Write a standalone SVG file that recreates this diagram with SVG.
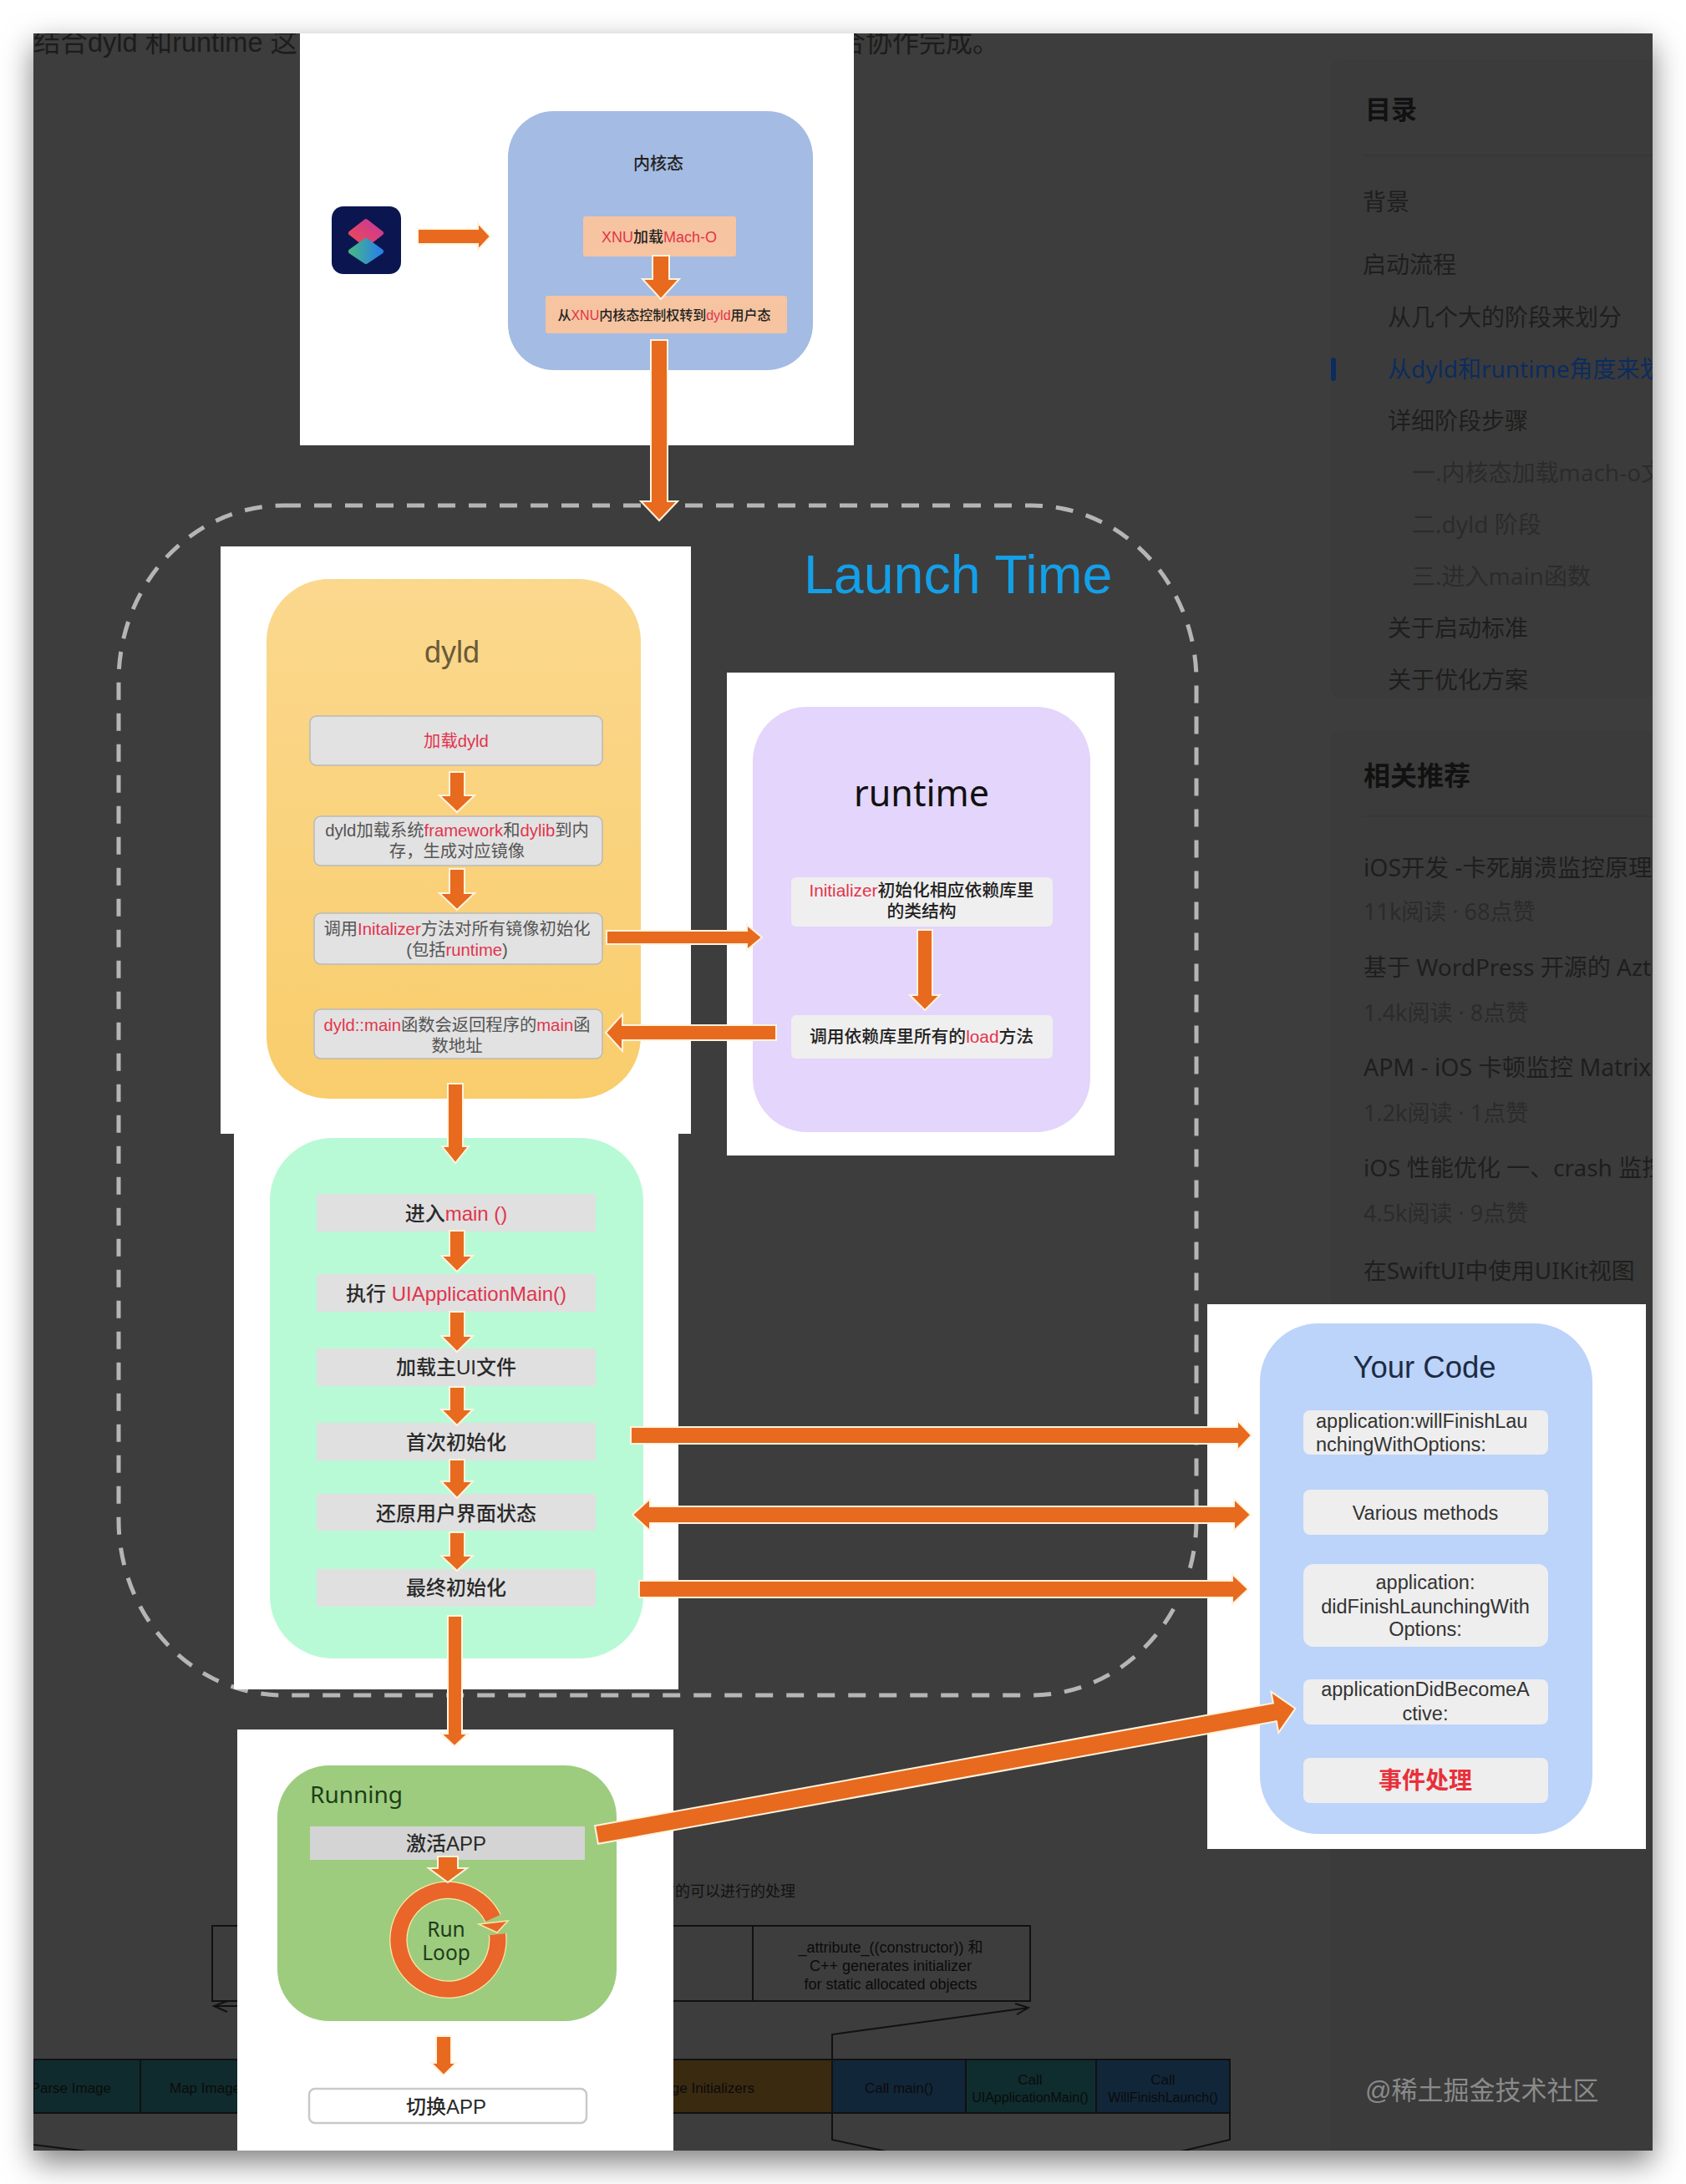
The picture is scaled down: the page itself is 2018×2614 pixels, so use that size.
<svg xmlns="http://www.w3.org/2000/svg" width="2018" height="2614" viewBox="0 0 2018 2614">
<style>
text{font-family:"Liberation Sans","Noto Sans CJK SC",sans-serif}
.m{text-anchor:middle}
.e{text-anchor:end}
.r{fill:#e2344c}
.wb{fill:#fff}
.ar{fill:#e76a1f;stroke:#fff3dc;stroke-width:2}
.side{font-family:"Noto Sans","Noto Sans CJK SC",sans-serif;font-size:28px;fill:#1e1e1e}
.dim{fill:#2b2b2b}
.meta{fill:#2b2b2b;font-size:27px}
.ln{fill:none;stroke:#111;stroke-width:2}
.bg{font-size:17px;fill:#0b0b0b}
.d{font-size:20.3px;fill:#555}
.g{fill:#e2e2e2;stroke:#b9b9b9;stroke-width:1.5}
.gg{fill:#e0e0e0}
.t24{font-size:24px;fill:#2a2a2a;font-weight:500}
.y{fill:#eeeeee}
.c23{font-size:23.5px;fill:#333}
.rt{font-size:20.8px;fill:#222;font-weight:500}
</style>
<defs>
<filter id="sh" x="-10%" y="-10%" width="120%" height="120%"><feDropShadow dx="0" dy="14" stdDeviation="18" flood-color="#000" flood-opacity=".5"/></filter>
<clipPath id="pc"><rect x="40" y="40" width="1938" height="2534"/></clipPath>
<linearGradient id="og" x1="0" y1="0" x2="0" y2="1"><stop offset="0" stop-color="#fbd88e"/><stop offset="1" stop-color="#f9cd6c"/></linearGradient>
<linearGradient id="pk" x1="1" y1="0" x2="0" y2="1"><stop offset="0" stop-color="#c8389a"/><stop offset="1" stop-color="#ef4a50"/></linearGradient>
<linearGradient id="tl" x1="0" y1="0" x2="1" y2="0"><stop offset="0" stop-color="#45b58a"/><stop offset="1" stop-color="#2a80e8"/></linearGradient>
</defs>
<rect width="2018" height="2614" fill="#fff"/>
<rect id="panel" x="40" y="40" width="1938" height="2534" fill="#3c3c3c" filter="url(#sh)"/>
<g clip-path="url(#pc)">
<g id="page-text">
<text x="40" y="62" font-size="32.5" fill="#1c1c1c">结合dyld 和runtime 这</text>
<text x="1196" y="62" class="e" font-size="32" fill="#1c1c1c">合协作完成。</text>
</g>
<g id="sidebar">
<rect x="1593" y="72" width="420" height="763" rx="12" fill="#3b3b3b"/>
<rect x="1593" y="875" width="420" height="1720" rx="12" fill="#3b3b3b"/>
<rect x="1632" y="185" width="346" height="1.5" fill="#363636"/>
<text class="side" x="1634" y="142" style="font-size:31px;font-weight:700;fill:#111">目录</text>
<text class="side" x="1631" y="252">背景</text>
<text class="side" x="1631" y="327">启动流程</text>
<text class="side" x="1661" y="390">从几个大的阶段来划分</text>
<rect x="1593" y="428" width="6" height="28" rx="3" fill="#0c2c5e"/>
<text class="side" x="1661" y="452" style="fill:#0c2c5e">从dyld和runtime角度来划分</text>
<text class="side" x="1661" y="514">详细阶段步骤</text>
<text class="side dim" x="1690" y="576" style="fill:#2b2b2b">一.内核态加载mach-o文件</text>
<text class="side dim" x="1690" y="638" style="fill:#2b2b2b">二.dyld 阶段</text>
<text class="side dim" x="1690" y="700" style="fill:#2b2b2b">三.进入main函数</text>
<text class="side" x="1661" y="762">关于启动标准</text>
<text class="side" x="1661" y="824">关于优化方案</text>
<text class="side" x="1632" y="940" style="font-size:32px;font-weight:700;fill:#111">相关推荐</text>
<rect x="1632" y="976" width="346" height="1.5" fill="#363636"/>
<text class="side" x="1632" y="1049" style="font-size:28.4px">iOS开发 -卡死崩溃监控原理</text>
<text class="side meta" x="1632" y="1101">11k阅读 · 68点赞</text>
<text class="side" x="1632" y="1168">基于 WordPress 开源的 Aztec</text>
<text class="side meta" x="1632" y="1222">1.4k阅读 · 8点赞</text>
<text class="side" x="1632" y="1288" style="font-size:28.4px">APM - iOS 卡顿监控 Matrix</text>
<text class="side meta" x="1632" y="1342">1.2k阅读 · 1点赞</text>
<text class="side" x="1632" y="1408">iOS 性能优化 一、crash 监控</text>
<text class="side meta" x="1632" y="1462">4.5k阅读 · 9点赞</text>
<text class="side" x="1632" y="1531" style="font-size:27.8px">在SwiftUI中使用UIKit视图</text>
</g>
<g id="background-diagram">
<text class="e" x="952" y="2270" font-size="18" fill="#111">前的可以进行的处理</text>
<rect class="ln" x="254" y="2305" width="979" height="90"/>
<path class="ln" d="M901 2305V2395"/>
<text class="bg m" x="1066" y="2337" style="font-size:18px">_attribute_((constructor)) 和</text>
<text class="bg m" x="1066" y="2359" style="font-size:18px">C++ generates initializer</text>
<text class="bg m" x="1066" y="2381" style="font-size:18px">for static allocated objects</text>
<path class="ln" d="M284 2401H256M272 2395L256 2401L272 2408"/>
<path class="ln" d="M996 2465V2435L1231 2403M1215 2398L1231 2403L1217 2411"/>
<g stroke="#111" stroke-width="2">
<rect x="40" y="2465" width="128" height="64" fill="#0f2b2d"/>
<rect x="168" y="2465" width="130" height="64" fill="#0f2b2d"/>
<rect x="800" y="2465" width="196" height="64" fill="#3a2a10"/>
<rect x="996" y="2465" width="160" height="64" fill="#12263a"/>
<rect x="1156" y="2465" width="156" height="64" fill="#0f2d2e"/>
<rect x="1312" y="2465" width="160" height="64" fill="#12263a"/>
</g>
<text class="bg e" x="133" y="2505">Parse Image</text>
<text class="bg" x="203" y="2505">Map Image</text>
<text class="bg e" x="903" y="2505">Image Initializers</text>
<text class="bg m" x="1076" y="2505">Call main()</text>
<text class="bg m" x="1233" y="2495">Call</text>
<text class="bg m" x="1233" y="2516" style="font-size:16px">UIApplicationMain()</text>
<text class="bg m" x="1392" y="2495">Call</text>
<text class="bg m" x="1392" y="2516" style="font-size:16px">WillFinishLaunch()</text>
<path class="ln" d="M996 2529V2561L1061 2575M1472 2529V2561L1413 2575M40 2567L105 2575"/>
<text id="watermark" x="1634" y="2513" font-size="31" fill="#8a8a8a">@稀土掘金技术社区</text>
</g>
<rect id="launch-time-frame" x="142" y="605" width="1290" height="1424" rx="197" ry="210" fill="none" stroke="#b5b5b5" stroke-width="5" stroke-dasharray="21 16"/>
<text id="launch-time-label" x="962" y="710" font-size="64.5" fill="#13a0e8">Launch Time</text>

<g id="node-kernel">
<rect class="wb" x="359" y="40" width="663" height="493"/>
<rect x="608" y="133" width="365" height="310" rx="55" fill="#a4bbe3"/>
<text class="m" x="788" y="203" font-size="20" fill="#222" font-weight="500">内核态</text>
<rect x="698" y="259" width="183" height="48" rx="3" fill="#f6c4a0"/>
<text class="m" x="789" y="290" font-size="18" fill="#222" font-weight="500"><tspan class="r">XNU</tspan>加载<tspan class="r">Mach-O</tspan></text>
<rect x="653" y="354" width="289" height="45" rx="3" fill="#f6c4a0"/>
<text class="m" x="795" y="383" font-size="16" fill="#222" font-weight="500">从<tspan class="r">XNU</tspan>内核态控制权转到<tspan class="r">dyld</tspan>用户态</text>
</g>
<g id="node-app-icon">
<rect x="397" y="247" width="83" height="81" rx="14" fill="#0b1650"/>
<path d="M438 265L456 279L438 293L420 279Z" fill="url(#pk)" stroke="url(#pk)" stroke-width="6" stroke-linejoin="round"/>
<path d="M438 288L456 301L438 313L420 301Z" fill="url(#tl)" stroke="url(#tl)" stroke-width="6" stroke-linejoin="round"/>
</g>
<g id="node-dyld">
<rect class="wb" x="264" y="654" width="563" height="703"/>
<rect x="319" y="693" width="448" height="622" rx="75" fill="url(#og)"/>
<text class="m" x="541" y="793" font-size="36" fill="#6a5a3a">dyld</text>
<rect class="g" x="371" y="857" width="350" height="59" rx="8"/>
<text class="m d" x="546" y="894"><tspan class="r">加载dyld</tspan></text>
<rect class="g" x="376" y="977" width="345" height="59" rx="8"/>
<text class="m d" x="547" y="1001">dyld加载系统<tspan class="r">framework</tspan>和<tspan class="r">dylib</tspan>到内</text>
<text class="m d" x="547" y="1026">存，生成对应镜像</text>
<rect class="g" x="376" y="1093" width="345" height="61" rx="8"/>
<text class="m d" x="547" y="1119">调用<tspan class="r">Initalizer</tspan>方法对所有镜像初始化</text>
<text class="m d" x="547" y="1144">(包括<tspan class="r">runtime</tspan>)</text>
<rect class="g" x="376" y="1208" width="345" height="59" rx="8"/>
<text class="m d" x="547" y="1234"><tspan class="r">dyld::main</tspan>函数会返回程序的<tspan class="r">main</tspan>函</text>
<text class="m d" x="547" y="1259">数地址</text>
</g>
<g id="node-runtime">
<rect class="wb" x="870" y="805" width="464" height="578"/>
<rect x="901" y="846" width="404" height="509" rx="65" fill="#e3d5fb"/>
<text class="m" x="1103" y="965" font-size="43" fill="#111" style="font-family:'Noto Sans',sans-serif">runtime</text>
<rect x="947" y="1050" width="313" height="59" rx="6" fill="#f0efef"/>
<text class="m rt" x="1103" y="1073"><tspan class="r">Initializer</tspan>初始化相应依赖库里</text>
<text class="m rt" x="1103" y="1098">的类结构</text>
<rect x="947" y="1215" width="313" height="52" rx="6" fill="#f0efef"/>
<text class="m rt" x="1103" y="1248">调用依赖库里所有的<tspan class="r">load</tspan>方法</text>
</g>
<g id="node-main">
<rect class="wb" x="280" y="1357" width="532" height="665"/>
<rect x="323" y="1362" width="447" height="623" rx="75" fill="#b9fad6"/>
<rect class="gg" x="379" y="1429" width="334" height="45"/>
<text class="m t24" x="546" y="1461">进入<tspan class="r">main ()</tspan></text>
<rect class="gg" x="379" y="1525" width="334" height="45"/>
<text class="m t24" x="546" y="1557">执行 <tspan class="r">UIApplicationMain()</tspan></text>
<rect class="gg" x="379" y="1614" width="334" height="45"/>
<text class="m t24" x="546" y="1645">加载主UI文件</text>
<rect class="gg" x="379" y="1703" width="334" height="45"/>
<text class="m t24" x="546" y="1735">首次初始化</text>
<rect class="gg" x="379" y="1788" width="334" height="44"/>
<text class="m t24" x="546" y="1820">还原用户界面状态</text>
<rect class="gg" x="379" y="1878" width="334" height="45"/>
<text class="m t24" x="546" y="1909">最终初始化</text>
</g>
<g id="node-your-code">
<rect class="wb" x="1445" y="1561" width="525" height="652"/>
<rect x="1508" y="1584" width="398" height="611" rx="70" fill="#bcd3fa"/>
<text class="m" x="1705" y="1649" font-size="36.5" fill="#1c2c44">Your Code</text>
<rect class="y" x="1560" y="1688" width="293" height="53" rx="8"/>
<text class="c23" x="1575" y="1709">application:willFinishLau</text>
<text class="c23" x="1575" y="1737">nchingWithOptions:</text>
<rect class="y" x="1560" y="1783" width="293" height="54" rx="8"/>
<text class="m c23" x="1706" y="1819">Various methods</text>
<rect class="y" x="1560" y="1872" width="293" height="99" rx="12"/>
<text class="m c23" x="1706" y="1902">application:</text>
<text class="m c23" x="1706" y="1931">didFinishLaunchingWith</text>
<text class="m c23" x="1706" y="1958">Options:</text>
<rect class="y" x="1560" y="2010" width="293" height="54" rx="8"/>
<text class="m c23" x="1706" y="2030">applicationDidBecomeA</text>
<text class="m c23" x="1706" y="2059">ctive:</text>
<rect class="y" x="1560" y="2104" width="293" height="54" rx="8"/>
<text class="m" x="1706" y="2141" font-size="28" font-weight="700" fill="#e8303a">事件处理</text>
</g>
<g id="node-running">
<rect class="wb" x="284" y="2070" width="522" height="510"/>
<rect x="332" y="2113" width="406" height="306" rx="62" fill="#9dcc7e"/>
<text x="371" y="2158" font-size="28" fill="#1d3d1a" style="font-family:'Noto Sans',sans-serif">Running</text>
<rect x="371" y="2186" width="329" height="40" fill="#d4d4d4"/>
<text class="m t24" x="534" y="2215">激活APP</text>
<path d="M595.5 2315A59.5 59.5 0 1 1 590 2296" fill="none" stroke="#fbe9a6" stroke-width="21.5"/>
<path d="M595.5 2315A59.5 59.5 0 1 1 590 2296" fill="none" stroke="#e9652a" stroke-width="19"/>
<path d="M573 2303L608 2299L595 2313Z" fill="#e9652a" stroke="#fbe9a6" stroke-width="1.5"/>
<text class="m" x="534" y="2318" font-size="24.5" fill="#1e3c1c" style="font-family:'Noto Sans',sans-serif">Run</text>
<text class="m" x="534" y="2346" font-size="24.5" fill="#1e3c1c" style="font-family:'Noto Sans',sans-serif">Loop</text>
<rect x="370" y="2500" width="332" height="41" rx="7" fill="#fff" stroke="#c9c9c9" stroke-width="2.5"/>
<text class="m t24" x="534" y="2530">切换APP</text>
</g>
<g id="connectors">
<polygon class="ar" points="500,274 572,274 572,267 587,283 572,299 572,292 500,292"/>
<polygon class="ar" points="781,306 801,306 801,334 813,334 791,358 769,334 781,334"/>
<polygon class="ar" points="779,407 799,407 799,600 811,600 789,623 767,600 779,600"/>
<polygon class="ar" points="538,924 556,924 556,952 568,952 547,972 526,952 538,952"/>
<polygon class="ar" points="538,1040 556,1040 556,1069 568,1069 547,1089 526,1069 538,1069"/>
<polygon class="ar" points="726,1114 894,1114 894,1107 912,1122 894,1137 894,1130 726,1130"/>
<polygon class="ar" points="929,1227 745,1227 745,1214 725,1236 745,1258 745,1245 929,1245"/>
<polygon class="ar" points="536,1297 554,1297 554,1372 561,1372 545,1392 529,1372 536,1372"/>
<polygon class="ar" points="1098,1113 1116,1113 1116,1191 1125,1191 1107,1209 1089,1191 1098,1191"/>
<polygon class="ar" points="538,1473 556,1473 556,1503 566,1503 547,1522 528,1503 538,1503"/>
<polygon class="ar" points="538,1570 556,1570 556,1599 566,1599 547,1618 528,1599 538,1599"/>
<polygon class="ar" points="538,1660 556,1660 556,1687 566,1687 547,1706 528,1687 538,1687"/>
<polygon class="ar" points="538,1747 556,1747 556,1773 566,1773 547,1793 528,1773 538,1773"/>
<polygon class="ar" points="538,1834 556,1834 556,1862 566,1862 547,1880 528,1862 538,1862"/>
<polygon class="ar" points="536,1934 553,1934 553,2075 560,2075 544,2090 528,2075 536,2075"/>
<polygon class="ar" points="755,1708 1481,1708 1481,1700 1498,1718 1481,1736 1481,1728 755,1728"/>
<polygon class="ar" points="757,1813 778,1794 778,1803 1477,1803 1477,1794 1497,1813 1477,1832 1477,1823 778,1823 778,1832"/>
<polygon class="ar" points="765,1892 1475,1892 1475,1884 1494,1902 1475,1920 1475,1912 765,1912"/>
<polygon class="ar" points="0,-11 825,-11 825,-25 850,0 825,25 825,11 0,11" transform="translate(714 2196) rotate(-10.24)"/>
<polygon class="ar" points="524,2222 548,2222 548,2236 559,2236 536,2253 513,2236 524,2236"/>
<polygon class="ar" points="522,2437 540,2437 540,2469 546,2469 531,2484 516,2469 522,2469"/>
</g>
</g>
</svg>
